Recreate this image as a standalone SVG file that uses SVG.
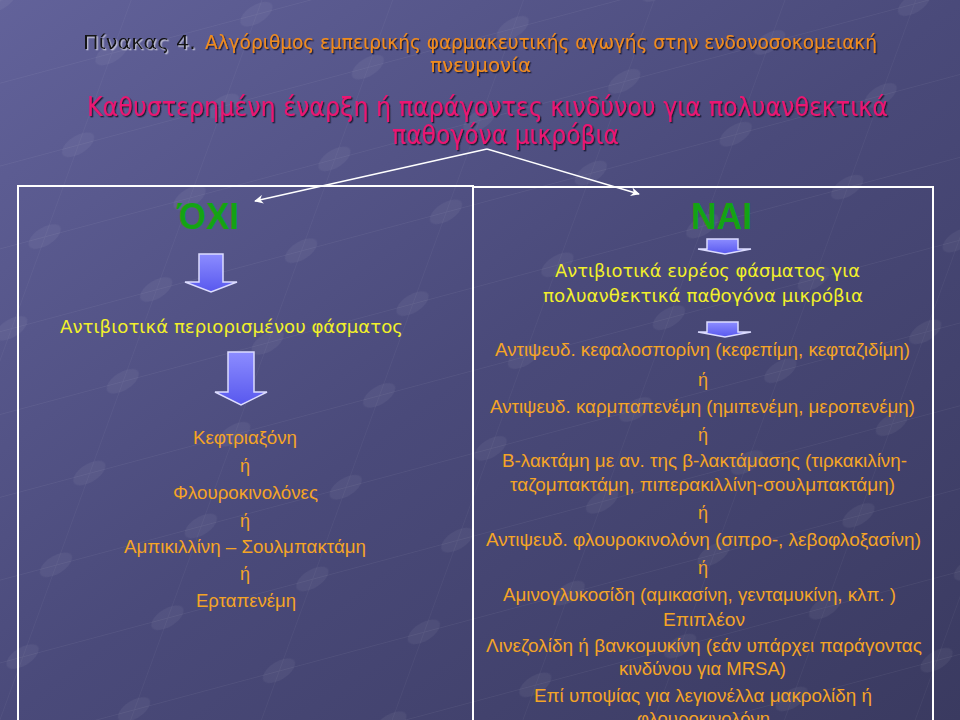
<svg xmlns="http://www.w3.org/2000/svg" width="960" height="720" viewBox="0 0 960 720">
<defs>
<linearGradient id="bg" x1="0" y1="0" x2="1" y2="1">
<stop offset="0" stop-color="#62629a"/>
<stop offset="0.5" stop-color="#4a4a7a"/>
<stop offset="1" stop-color="#3a3a60"/>
</linearGradient>
<linearGradient id="blk" x1="0" y1="0" x2="0" y2="1">
<stop offset="0" stop-color="#8c8cff"/>
<stop offset="1" stop-color="#5858ee"/>
</linearGradient>
<pattern id="grid" width="150" height="80" patternUnits="userSpaceOnUse" patternTransform="rotate(-15) skewX(-35)">
<path d="M0 0 H150 M0 0 V80" stroke="#ffffff" stroke-opacity="0.05" stroke-width="1.5" fill="none"/>
<ellipse cx="0" cy="0" rx="16" ry="10" fill="#ffffff" fill-opacity="0.05"/>
<ellipse cx="150" cy="0" rx="16" ry="10" fill="#ffffff" fill-opacity="0.05"/>
<ellipse cx="0" cy="80" rx="16" ry="10" fill="#ffffff" fill-opacity="0.05"/>
<ellipse cx="150" cy="80" rx="16" ry="10" fill="#ffffff" fill-opacity="0.05"/>
</pattern>
<filter id="shDark" filterUnits="userSpaceOnUse" x="0" y="0" width="960" height="720">
<feDropShadow dx="1.3" dy="1.3" stdDeviation="0" flood-color="#15152a" flood-opacity="0.9"/>
</filter>
<filter id="shLight" filterUnits="userSpaceOnUse" x="0" y="0" width="960" height="720">
<feDropShadow dx="1.3" dy="1.3" stdDeviation="0" flood-color="#c8c8dc" flood-opacity="0.9"/>
</filter>
<marker id="ah" viewBox="0 0 10 10" refX="9" refY="5" markerWidth="9" markerHeight="9" orient="auto" markerUnits="userSpaceOnUse">
<path d="M0 0 L10 5 L0 10 L3 5 Z" fill="#ffffff"/>
</marker>
<style>
.ti{font-family:"DejaVu Sans","Liberation Sans",sans-serif;font-size:20px}
.mg{font-family:"DejaVu Sans","Liberation Sans",sans-serif;font-size:26px;fill:#ea1672;filter:url(#shDark)}
.gr{font-family:"Liberation Sans",Arial,sans-serif;font-size:36px;font-weight:bold;fill:#14a314}
.y{font-family:"DejaVu Sans","Liberation Sans",sans-serif;font-size:17px;fill:#f2f02a}
.o{font-family:"Liberation Sans",Arial,sans-serif;font-size:18px;fill:#f4a426}
.box{fill:none;stroke:#ffffff;stroke-width:2}
.blk{fill:url(#blk);stroke:#dcdcff;stroke-width:1.5;stroke-linejoin:miter}
.con{stroke:#ffffff;stroke-width:1.5;fill:none;marker-end:url(#ah)}
</style>
</defs>
<rect width="960" height="720" fill="url(#bg)"/>
<rect width="960" height="720" fill="url(#grid)"/>

<g id="title">
<text class="ti" x="83" y="49" textLength="113" lengthAdjust="spacingAndGlyphs" fill="#121212" filter="url(#shLight)">Πίνακας 4.</text>
<text class="ti" x="205" y="49" textLength="672" lengthAdjust="spacingAndGlyphs" fill="#f08c1e" filter="url(#shDark)">Αλγόριθμος εμπειρικής φαρμακευτικής αγωγής στην ενδονοσοκομειακή</text>
<text class="ti" x="430" y="72" textLength="101" lengthAdjust="spacingAndGlyphs" fill="#f08c1e" filter="url(#shDark)">πνευμονία</text>
</g>

<g id="question">
<text class="mg" x="87" y="116" textLength="801" lengthAdjust="spacingAndGlyphs">Καθυστερημένη έναρξη ή παράγοντες κινδύνου για πολυανθεκτικά</text>
<text class="mg" x="392" y="144" textLength="227" lengthAdjust="spacingAndGlyphs">παθογόνα μικρόβια</text>
</g>

<g id="connectors">
<line class="con" x1="487" y1="149" x2="255" y2="201"/>
<line class="con" x1="487" y1="149" x2="639" y2="194"/>
</g>

<g id="no-branch">
<rect class="box" x="18" y="186" width="455" height="600"/>
<text class="gr" x="177" y="229" textLength="62" lengthAdjust="spacingAndGlyphs">ΌΧΙ</text>
<polygon class="blk" points="199,254 223,254 223,282 237,282 211,292 185,282 199,282"/>
<text class="y" x="60" y="333" textLength="343" lengthAdjust="spacingAndGlyphs">Αντιβιοτικά περιορισμένου φάσματος</text>
<polygon class="blk" points="228,352 254,352 254,392 267,392 241,405 215,392 228,392"/>
<text class="o" x="193" y="444" textLength="104" lengthAdjust="spacingAndGlyphs">Κεφτριαξόνη</text>
<text class="o" x="245" y="472" text-anchor="middle">ή</text>
<text class="o" x="173" y="499" textLength="145" lengthAdjust="spacingAndGlyphs">Φλουροκινολόνες</text>
<text class="o" x="245" y="527" text-anchor="middle">ή</text>
<text class="o" x="124" y="553" textLength="242" lengthAdjust="spacingAndGlyphs">Αμπικιλλίνη – Σουλμπακτάμη</text>
<text class="o" x="245" y="580" text-anchor="middle">ή</text>
<text class="o" x="196" y="607" textLength="100" lengthAdjust="spacingAndGlyphs">Ερταπενέμη</text>
</g>

<g id="yes-branch">
<rect class="box" x="473" y="187" width="460" height="600"/>
<text class="gr" x="691" y="229" textLength="61" lengthAdjust="spacingAndGlyphs">ΝΑΙ</text>
<polygon class="blk" points="707,239 738,239 738,249 751,249 725,254 698,249 707,249"/>
<text class="y" x="555" y="277" textLength="305" lengthAdjust="spacingAndGlyphs">Αντιβιοτικά ευρέος φάσματος για</text>
<text class="y" x="543" y="302" textLength="320" lengthAdjust="spacingAndGlyphs">πολυανθεκτικά παθογόνα μικρόβια</text>
<polygon class="blk" points="707,322 738,322 738,332 751,332 725,337 698,332 707,332"/>
<text class="o" x="495" y="356" textLength="415" lengthAdjust="spacingAndGlyphs">Αντιψευδ. κεφαλοσπορίνη (κεφεπίμη, κεφταζιδίμη)</text>
<text class="o" x="703" y="386" text-anchor="middle">ή</text>
<text class="o" x="490" y="413" textLength="425" lengthAdjust="spacingAndGlyphs">Αντιψευδ. καρμπαπενέμη (ημιπενέμη, μεροπενέμη)</text>
<text class="o" x="703" y="441" text-anchor="middle">ή</text>
<text class="o" x="502" y="467" textLength="405" lengthAdjust="spacingAndGlyphs">Β-λακτάμη με αν. της β-λακτάμασης (τιρκακιλίνη-</text>
<text class="o" x="510" y="491" textLength="385" lengthAdjust="spacingAndGlyphs">ταζομπακτάμη, πιπερακιλλίνη-σουλμπακτάμη)</text>
<text class="o" x="703" y="519" text-anchor="middle">ή</text>
<text class="o" x="486" y="546" textLength="435" lengthAdjust="spacingAndGlyphs">Αντιψευδ. φλουροκινολόνη (σιπρο-, λεβοφλοξασίνη)</text>
<text class="o" x="703" y="574" text-anchor="middle">ή</text>
<text class="o" x="503" y="601" textLength="393" lengthAdjust="spacingAndGlyphs">Αμινογλυκοσίδη (αμικασίνη, γενταμυκίνη, κλπ. )</text>
<text class="o" x="663" y="626" textLength="82" lengthAdjust="spacingAndGlyphs">Επιπλέον</text>
<text class="o" x="486" y="652" textLength="436" lengthAdjust="spacingAndGlyphs">Λινεζολίδη ή βανκομυκίνη (εάν υπάρχει παράγοντας</text>
<text class="o" x="619" y="675" textLength="167" lengthAdjust="spacingAndGlyphs">κινδύνου για MRSA)</text>
<text class="o" x="534" y="702" textLength="338" lengthAdjust="spacingAndGlyphs">Επί υποψίας για λεγιονέλλα μακρολίδη ή</text>
<text class="o" x="637" y="725" textLength="133" lengthAdjust="spacingAndGlyphs">φλουροκινολόνη</text>
</g>
</svg>
